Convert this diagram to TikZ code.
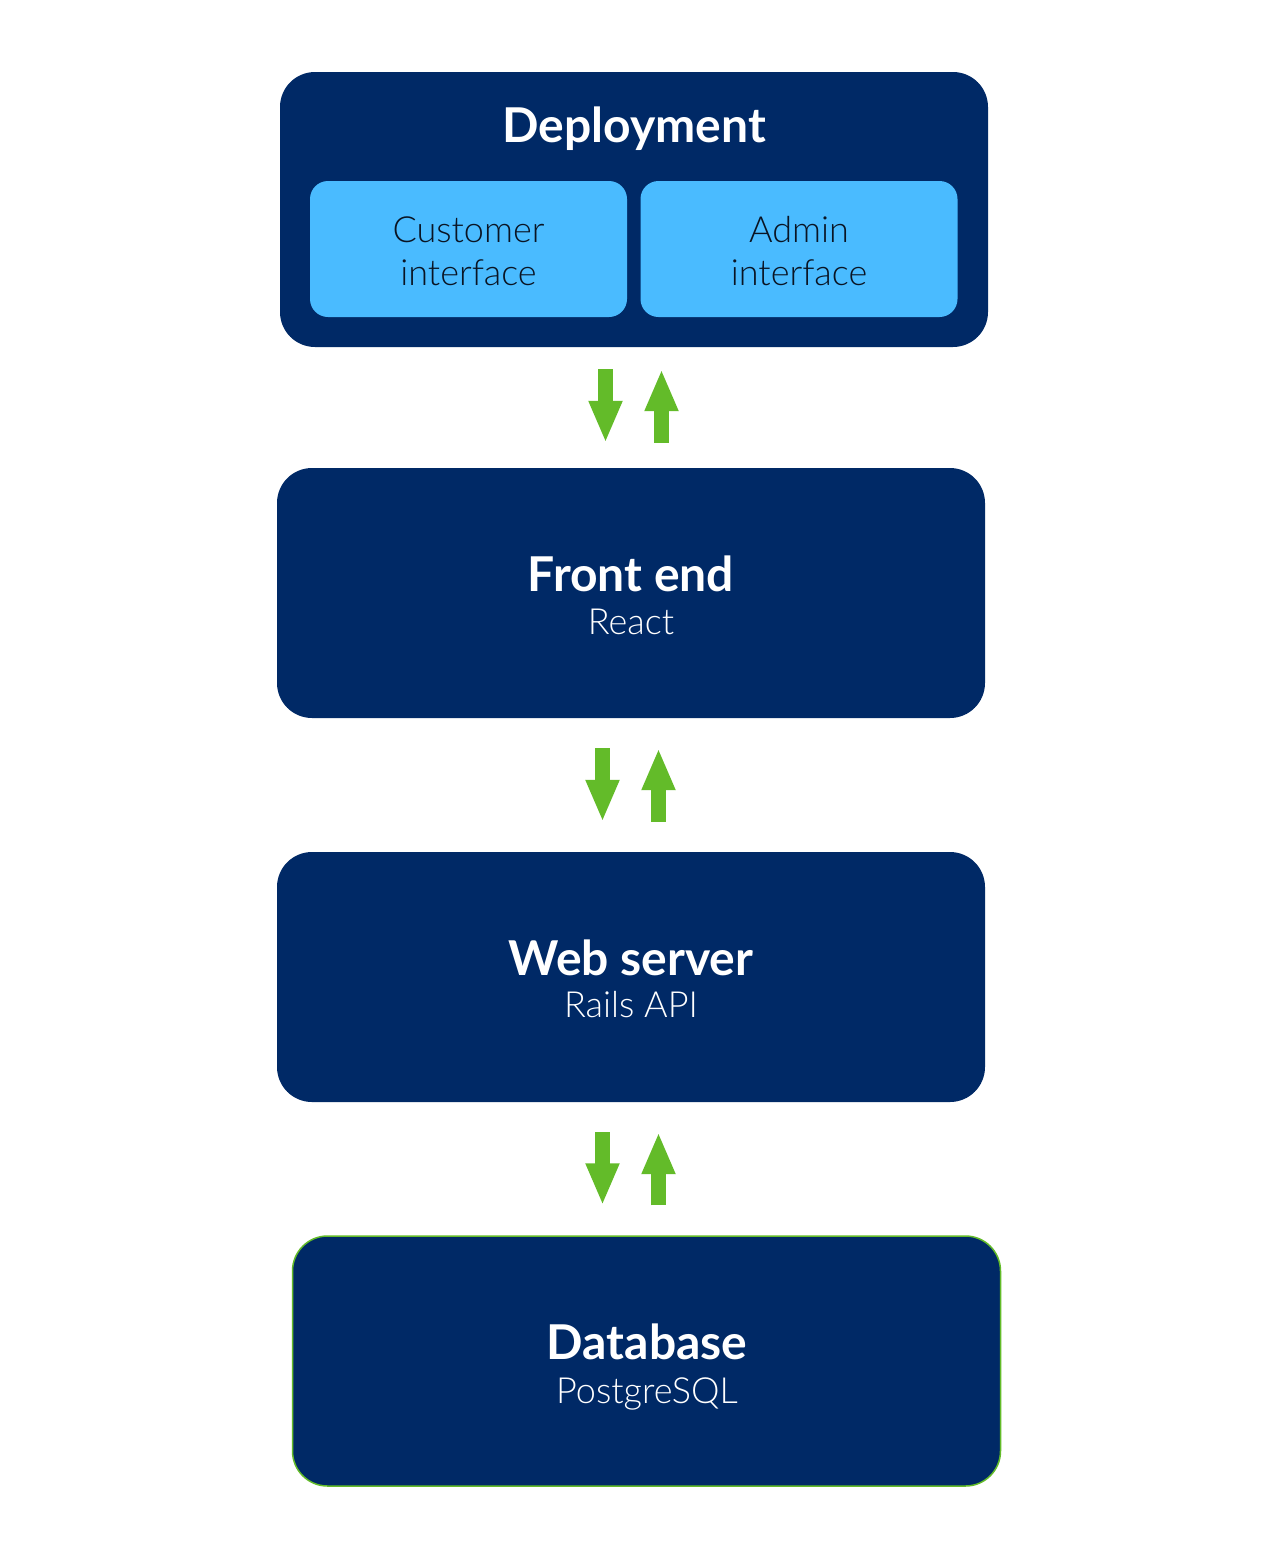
\documentclass[tikz,border=0pt]{standalone}
\usepackage{fontspec}
\setmainfont{Lato}
\newfontfamily\lightfont{Lato Light}
\usetikzlibrary{arrows.meta,positioning}
\definecolor{navy}{RGB}{0,41,102}
\definecolor{sky}{RGB}{74,187,255}
\definecolor{leaf}{RGB}{99,187,41}
\definecolor{ink}{RGB}{10,20,35}
\tikzset{
  bigbox/.style={draw=none,fill=navy,rounded corners=35pt,minimum width=708pt,minimum height=250pt,inner sep=0pt},
  subbox/.style={fill=sky,rounded corners=18pt,minimum width=317pt,minimum height=136pt,inner sep=0pt},
  title/.style={text=white,font=\bfseries\fontsize{48}{52}\selectfont,inner sep=0pt},
  sub/.style={text=white,font=\lightfont\fontsize{36}{40}\selectfont,inner sep=0pt},
  subtxt/.style={text=ink,font=\lightfont\fontsize{36}{43}\selectfont,align=center,inner sep=0pt},
  garrow/.style={draw=leaf,line width=15pt,-{Triangle[width=31pt,length=42pt]}},
}
\begin{document}
\begin{tikzpicture}[x=1pt,y=-1pt]
\useasboundingbox[fill=white] (0,0) rectangle (1278,1559);
% boxes
\node[bigbox,minimum height=275pt] (dep) at (634,209.5) {};
\node[subbox] (cust) at (468.5,249) {};
\node[subbox] (adm) at (799,249) {};
\node[bigbox] (fe) at (631,593) {};
\node[bigbox] (ws) at (631,977) {};
\node[bigbox,draw=leaf,line width=1.5pt] (db) at (646.5,1361) {};
% texts
\node[title] (deptitle) at (634,129) {Deployment};
\node[subtxt] (custtxt) at (468.5,251) {Customer\\interface};
\node[subtxt] (admtxt) at (799,251) {Admin\\interface};
\node[title] (fetitle) at (631,574) {Front end};
\node[sub] (fesub) at (631,622) {React};
\node[title] (wstitle) at (631,958) {Web server};
\node[sub] (wssub) at (631,1005) {Rails API};
\node[title] (dbtitle) at (647,1342) {Database};
\node[sub] (dbsub) at (647,1394) {PostgreSQL};
% arrows
\draw[garrow] ([xshift=-28.5pt,yshift=-22pt]dep.south) -- ([xshift=-25.5pt,yshift=25pt]fe.north);
\draw[garrow] ([xshift=30.5pt,yshift=25pt]fe.north) -- ([xshift=27.5pt,yshift=-22pt]dep.south);
\draw[garrow] ([xshift=-28.5pt,yshift=-30pt]fe.south) -- ([xshift=-28.5pt,yshift=30pt]ws.north);
\draw[garrow] ([xshift=27.5pt,yshift=30pt]ws.north) -- ([xshift=27.5pt,yshift=-30pt]fe.south);
\draw[garrow] ([xshift=-28.5pt,yshift=-30pt]ws.south) -- ([xshift=-44pt,yshift=30pt]db.north);
\draw[garrow] ([xshift=12pt,yshift=30pt]db.north) -- ([xshift=27.5pt,yshift=-30pt]ws.south);
\end{tikzpicture}
\end{document}
